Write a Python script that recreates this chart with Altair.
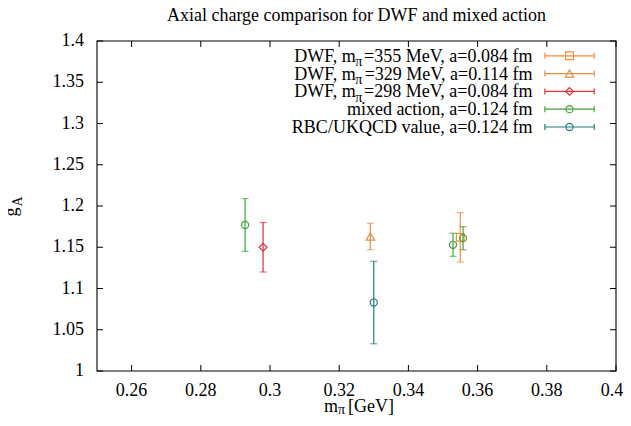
import altair as alt
import pandas as pd

FONT = "Liberation Serif"

# ---------------- data ----------------
x_tick_values = [0.26, 0.28, 0.30, 0.32, 0.34, 0.36, 0.38, 0.40]
x_tick_labels = ["0.26", "0.28", "0.3", "0.32", "0.34", "0.36", "0.38", "0.4"]
y_tick_values = [1.0, 1.05, 1.1, 1.15, 1.2, 1.25, 1.3, 1.35, 1.4]
y_tick_labels = ["1", "1.05", "1.1", "1.15", "1.2", "1.25", "1.3", "1.35", "1.4"]

legend_pre = ["DWF, m", "DWF, m", "DWF, m", "", ""]
legend_sub = ["π", "π", "π", "", ""]
legend_post = ["=355 MeV, a=0.084 fm", "=329 MeV, a=0.114 fm", "=298 MeV, a=0.084 fm",
               "mixed action, a=0.124 fm", "RBC/UKQCD value, a=0.124 fm"]
series_colors = ["#fd8a3a", "#e0904a", "#e0303a", "#3fa53a", "#237b7b"]
series_shapes = ["square", "triangle-up", "diamond", "circle", "circle"]
series_sizes = [60, 70, 60, 50, 50]

dwf355_mpi = [0.355]
dwf355_ga = [1.162]
dwf355_err = [0.030]

dwf329_mpi = [0.329]
dwf329_ga = [1.163]
dwf329_err = [0.016]

dwf298_mpi = [0.298]
dwf298_ga = [1.150]
dwf298_err = [0.030]

mixed_mpi = [0.2928, 0.3529, 0.3558]
mixed_ga = [1.177, 1.153, 1.161]
mixed_err = [0.032, 0.014, 0.014]

rbc_mpi = [0.330]
rbc_ga = [1.083]
rbc_err = [0.050]

# ---------------- tables ----------------
groups = [(dwf355_mpi, dwf355_ga, dwf355_err), (dwf329_mpi, dwf329_ga, dwf329_err),
          (dwf298_mpi, dwf298_ga, dwf298_err), (mixed_mpi, mixed_ga, mixed_err),
          (rbc_mpi, rbc_ga, rbc_err)]
rows = []
for s, (xs_, ys_, es_) in enumerate(groups):
    for xv, yv, ev in zip(xs_, ys_, es_):
        rows.append({"s": s, "x": xv, "y": yv, "lo": yv - ev, "hi": yv + ev,
                     "color": series_colors[s], "shape": series_shapes[s],
                     "size": series_sizes[s]})
df = pd.DataFrame(rows)

W, H = 519, 330
FS, SFS = 18, 14

# Times / Liberation Serif advance widths (per 1000 em)
TW = {" ": 250, ",": 250, ".": 250, "=": 564, "M": 889, "e": 444, "V": 722,
      "a": 444, "f": 333, "m": 778}
for d in "0123456789":
    TW[d] = 500


def text_w(t, fs):
    return sum(TW.get(c, 500) for c in t) * fs / 1000.0


LEG_RIGHT = 435.5
PI_W = 6.0
leg = []
for i in range(5):
    ly = 14.8 + 17.8 * i
    post_start = LEG_RIGHT - text_w(legend_post[i], FS)
    leg.append({"row": i, "ly": ly, "ly_top": ly - 3, "ly_bot": ly + 3,
                "ty": ly + 6, "sy": ly + 10.5,
                "pre": legend_pre[i], "sub": legend_sub[i], "post": legend_post[i],
                "pre_x": post_start - PI_W, "sub_x": post_start - PI_W - 0.5,
                "color": series_colors[i], "shape": series_shapes[i],
                "size": series_sizes[i]})
leg_df = pd.DataFrame(leg)

xs = alt.Scale(domain=[0.25, 0.4], nice=False, zero=False)
ys = alt.Scale(domain=[1.0, 1.4], nice=False, zero=False)

base = alt.Chart(df)
layers = []
for s in range(5):
    sub = base.transform_filter(alt.datum.s == s)
    rule = sub.mark_rule(strokeWidth=1.2).encode(
        x=alt.X("x:Q", scale=xs, axis=None),
        y=alt.Y("lo:Q", scale=ys, axis=None),
        y2="hi:Q",
        color=alt.Color("color:N", scale=None),
    )
    cap_lo = sub.mark_tick(orient="horizontal", size=7, thickness=1.2).encode(
        x=alt.X("x:Q", scale=xs, axis=None),
        y=alt.Y("lo:Q", scale=ys, axis=None),
        color=alt.Color("color:N", scale=None),
    )
    cap_hi = sub.mark_tick(orient="horizontal", size=7, thickness=1.2).encode(
        x=alt.X("x:Q", scale=xs, axis=None),
        y=alt.Y("hi:Q", scale=ys, axis=None),
        color=alt.Color("color:N", scale=None),
    )
    pts = sub.mark_point(filled=False, strokeWidth=1.2, opacity=1).encode(
        x=alt.X("x:Q", scale=xs, axis=None),
        y=alt.Y("y:Q", scale=ys, axis=None),
        color=alt.Color("color:N", scale=None),
        shape=alt.Shape("shape:N", scale=None),
        size=alt.Size("size:Q", scale=None),
    )
    layers += [rule, cap_lo, cap_hi, pts]

# frame
one = alt.Chart(pd.DataFrame({"k": [0]}))
layers.append(one.mark_rect(fillOpacity=0, stroke="black", strokeWidth=1.1).encode(
    x=alt.value(0), x2=alt.value(W), y=alt.value(0), y2=alt.value(H)))

# inward ticks on all four sides + tick labels
xt = alt.Chart(pd.DataFrame({"t": x_tick_values, "lab": x_tick_labels}))
yt = alt.Chart(pd.DataFrame({"t": y_tick_values, "lab": y_tick_labels}))
tick_style = dict(color="black", strokeWidth=1)
xlab_style = dict(font=FONT, fontSize=FS, color="black", align="center", baseline="alphabetic")
layers += [
    xt.mark_rule(**tick_style).encode(x=alt.X("t:Q", scale=xs, axis=None),
                                      y=alt.value(H), y2=alt.value(H - 6)),
    xt.mark_rule(**tick_style).encode(x=alt.X("t:Q", scale=xs, axis=None),
                                      y=alt.value(0), y2=alt.value(6)),
    yt.mark_rule(**tick_style).encode(y=alt.Y("t:Q", scale=ys, axis=None),
                                      x=alt.value(0), x2=alt.value(6)),
    yt.mark_rule(**tick_style).encode(y=alt.Y("t:Q", scale=ys, axis=None),
                                      x=alt.value(W), x2=alt.value(W - 6)),
    xt.transform_filter(alt.datum.t < 0.399).mark_text(**xlab_style).encode(
        x=alt.X("t:Q", scale=xs, axis=None), y=alt.value(H + 25), text="lab:N"),
    xt.transform_filter(alt.datum.t >= 0.399).mark_text(dx=-4, **xlab_style).encode(
        x=alt.X("t:Q", scale=xs, axis=None), y=alt.value(H + 25), text="lab:N"),
    yt.mark_text(font=FONT, fontSize=FS, color="black", align="right",
                 baseline="middle").encode(
        y=alt.Y("t:Q", scale=ys, axis=None), x=alt.value(-13), text="lab:N"),
]

# legend
lb = alt.Chart(leg_df)
LX0, LX1, LXS = 447.9, 497.2, 472.5
layers += [
    lb.mark_rule(strokeWidth=1.2).encode(x=alt.value(LX0), x2=alt.value(LX1),
                                         y=alt.Y("ly:Q", scale=None),
                                         color=alt.Color("color:N", scale=None)),
    lb.mark_rule(strokeWidth=1.2).encode(x=alt.value(LX0), y=alt.Y("ly_top:Q", scale=None),
                                         y2="ly_bot:Q", color=alt.Color("color:N", scale=None)),
    lb.mark_rule(strokeWidth=1.2).encode(x=alt.value(LX1), y=alt.Y("ly_top:Q", scale=None),
                                         y2="ly_bot:Q", color=alt.Color("color:N", scale=None)),
    lb.mark_point(filled=False, strokeWidth=1.2, opacity=1).encode(
        x=alt.value(LXS), y=alt.Y("ly:Q", scale=None),
        color=alt.Color("color:N", scale=None),
        shape=alt.Shape("shape:N", scale=None),
        size=alt.Size("size:Q", scale=None)),
    lb.mark_text(align="right", baseline="alphabetic", font=FONT, fontSize=FS,
                 color="black").encode(x=alt.value(LEG_RIGHT), y=alt.Y("ty:Q", scale=None),
                                       text="post:N"),
    lb.mark_text(align="right", baseline="alphabetic", font=FONT, fontSize=FS,
                 color="black").encode(x=alt.X("pre_x:Q", scale=None),
                                       y=alt.Y("ty:Q", scale=None), text="pre:N"),
    lb.mark_text(align="left", baseline="alphabetic", font=FONT, fontSize=SFS,
                 color="black").encode(x=alt.X("sub_x:Q", scale=None),
                                       y=alt.Y("sy:Q", scale=None), text="sub:N"),
]

# titles
txt = dict(font=FONT, color="black", baseline="alphabetic")
layers += [
    one.mark_text(align="center", fontSize=FS, **txt).encode(
        x=alt.value(259.5), y=alt.value(-20.5),
        text=alt.value("Axial charge comparison for DWF and mixed action")),
    one.mark_text(align="left", fontSize=FS, **txt).encode(
        x=alt.value(227), y=alt.value(370.5), text=alt.value("m")),
    one.mark_text(align="left", fontSize=SFS, **txt).encode(
        x=alt.value(241), y=alt.value(373), text=alt.value("π")),
    one.mark_text(align="left", fontSize=FS, **txt).encode(
        x=alt.value(251), y=alt.value(370.5), text=alt.value("[GeV]")),
    one.mark_text(align="center", fontSize=FS, angle=270, **txt).encode(
        x=alt.value(-80.5), y=alt.value(171), text=alt.value("g")),
    one.mark_text(align="center", fontSize=SFS, angle=270, **txt).encode(
        x=alt.value(-75.5), y=alt.value(160.5), text=alt.value("A")),
]

chart = alt.layer(*layers).properties(
    width=W, height=H,
    padding={"left": 89, "top": 33, "right": 7, "bottom": 44},
    autosize=alt.AutoSizeParams(type="none"),
    background="white",
).configure_view(stroke=None)

chart.save("out.html", embed_options={"renderer": "svg", "actions": False})
